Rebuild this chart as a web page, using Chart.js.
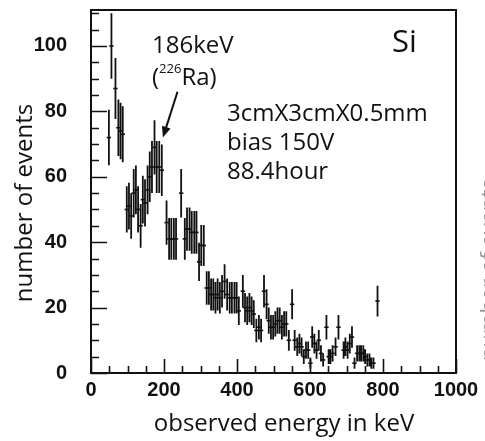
<!DOCTYPE html>
<html>
<head>
<meta charset="utf-8">
<script src="https://cdn.jsdelivr.net/npm/chart.js@4.4.1/dist/chart.umd.min.js"></script>
<style>
  html, body { margin: 0; padding: 0; background: #fff; }
  #wrap { width: 485px; height: 441px; }
</style>
</head>
<body>
<div id="wrap"><canvas id="spectrum" width="485" height="441"></canvas></div>
<script>
// Si detector, 88.4 h run: bin centre (keV) and counts in the bin
var energy = [49, 56, 67, 75, 81, 87,
  98, 104, 110, 117, 123, 129, 136, 142, 148, 155,
  161, 167, 174, 180, 187, 194,
  207, 214, 220, 227, 233, 247,
  257, 263, 270, 276, 283, 289, 296, 302, 309,
  317, 323, 329, 335, 341, 347, 353, 359, 366, 373,
  380, 386, 393, 399, 405, 416, 422, 428, 434, 440, 446,
  453, 460, 466, 474, 481, 487, 493, 499, 505, 511, 517, 523, 529, 535, 542,
  551, 558, 565, 571, 577, 583, 589, 595, 601,
  606, 612, 618, 624, 630, 636, 645, 651, 656, 662, 670, 678,
  692, 697, 703, 709, 715,
  722, 729, 735, 740, 746, 751, 757, 763, 768, 774, 785];
var counts = [72, 100, 87, 75, 74, 73,
  50, 51, 48, 55, 56, 50, 45, 53, 52, 56,
  60, 63, 69, 63, 63, 62,
  46, 41, 41, 41, 41, 55,
  41, 44, 44, 43, 43, 43, 34, 39, 39,
  26, 26, 24, 24, 23, 24, 23, 25, 28, 24,
  23, 23, 23, 23, 19, 25, 20, 19, 20, 19, 18,
  13, 14, 13, 25, 21, 16, 14, 14, 15, 16, 16, 14, 15, 15, 10,
  21, 10, 8, 9, 8, 5, 7, 7, 3,
  11, 9, 7, 10, 6, 4, 14, 5, 5, 6, 8, 14,
  7, 8, 7, 9, 11,
  3, 6, 6, 6, 6, 5, 4, 4, 3, 3, 22];
var xTicks = [0, 200, 400, 600, 800, 1000];
var yTicks = [0, 20, 40, 60, 80, 100];

var points = energy.map(function (e, i) {
  // poisson error on each bin
  return { x: e, y: counts[i], err: Math.sqrt(counts[i]) };
});

var ink = '#111';
var labelFont = '"Open Sans", "Noto Sans", sans-serif';

// inward ticks + frame, ROOT style
var frame = {
  id: 'frame',
  beforeDatasetsDraw: function (chart) {
    var ctx = chart.ctx, a = chart.chartArea;
    var xs = chart.scales.x, ys = chart.scales.y;
    ctx.save();
    ctx.strokeStyle = ink;
    ctx.lineWidth = 1.6;
    ctx.beginPath();
    for (var v = 0; v <= 110; v += 5) {
      var py = Math.round(ys.getPixelForValue(v)) + 0.5;
      var len = (v % 20 === 0) ? 16 : 8;
      ctx.moveTo(a.left, py);
      ctx.lineTo(a.left + len, py);
    }
    for (var e = 0; e <= 1000; e += 50) {
      var px = Math.round(xs.getPixelForValue(e)) + 0.5;
      var l2 = (e % 200 === 0) ? 14 : 7;
      ctx.moveTo(px, a.bottom);
      ctx.lineTo(px, a.bottom - l2);
    }
    ctx.stroke();
    ctx.lineWidth = 2;
    ctx.strokeRect(a.left, a.top, a.right - a.left, a.bottom - a.top);
    ctx.restore();
  }
};

var errorBars = {
  id: 'errorBars',
  beforeDatasetsDraw: function (chart) {
    var ctx = chart.ctx;
    var xs = chart.scales.x, ys = chart.scales.y;
    ctx.save();
    ctx.strokeStyle = ink;
    ctx.lineWidth = 1.8;
    ctx.beginPath();
    chart.data.datasets[0].data.forEach(function (p) {
      var px = xs.getPixelForValue(p.x);
      ctx.moveTo(px, ys.getPixelForValue(Math.max(0, p.y - p.err)));
      ctx.lineTo(px, ys.getPixelForValue(p.y + p.err));
    });
    ctx.stroke();
    ctx.restore();
  }
};

var notes = {
  id: 'notes',
  afterDraw: function (chart) {
    var ctx = chart.ctx;
    var xs = chart.scales.x, ys = chart.scales.y;
    ctx.save();
    ctx.fillStyle = ink;
    ctx.textBaseline = 'alphabetic';
    ctx.textAlign = 'left';

    ctx.font = '24px ' + labelFont;
    ctx.fillText('186keV', 152, 53);
    var x = 152;
    ctx.fillText('(', x, 85);
    x += ctx.measureText('(').width;
    ctx.font = '13px ' + labelFont;
    ctx.fillText('226', x, 73);
    x += ctx.measureText('226').width;
    ctx.font = '24px ' + labelFont;
    ctx.fillText('Ra)', x, 85);

    ctx.fillText('3cmX3cmX0.5mm', 227, 121);
    ctx.fillText('bias 150V', 227, 150);
    ctx.fillText('88.4hour', 227, 179);

    ctx.font = '31px ' + labelFont;
    ctx.fillText('Si', 392, 52);

    // axis titles
    ctx.font = '24px ' + labelFont;
    ctx.textAlign = 'center';
    ctx.fillText('observed energy in keV', 284, 431);
    ctx.save();
    ctx.translate(32, 203);
    ctx.rotate(-Math.PI / 2);
    ctx.fillText('number of events', 0, 0);
    ctx.restore();

    // neighbouring panel's title, cut by the page edge
    ctx.save();
    ctx.fillStyle = '#9a9a9a';
    ctx.font = '22px ' + labelFont;
    ctx.translate(496, 270);
    ctx.rotate(-Math.PI / 2);
    ctx.fillText('number of events', 0, 0);
    ctx.restore();

    // arrow to the 186 keV line
    var x0 = xs.getPixelForValue(237), y0 = ys.getPixelForValue(86);
    var x1 = xs.getPixelForValue(197), y1 = ys.getPixelForValue(72);
    var ang = Math.atan2(y1 - y0, x1 - x0);
    ctx.strokeStyle = ink;
    ctx.lineWidth = 2;
    ctx.beginPath();
    ctx.moveTo(x0, y0);
    ctx.lineTo(x1 - 8 * Math.cos(ang), y1 - 8 * Math.sin(ang));
    ctx.stroke();
    ctx.beginPath();
    ctx.moveTo(x1, y1);
    ctx.lineTo(x1 - 11 * Math.cos(ang) + 4.5 * Math.sin(ang), y1 - 11 * Math.sin(ang) - 4.5 * Math.cos(ang));
    ctx.lineTo(x1 - 11 * Math.cos(ang) - 4.5 * Math.sin(ang), y1 - 11 * Math.sin(ang) + 4.5 * Math.cos(ang));
    ctx.closePath();
    ctx.fill();
    ctx.restore();
  }
};

function draw() {
  var tickFont = { family: '"Liberation Sans", Arial, sans-serif', size: 20, weight: 'bold' };
  new Chart(document.getElementById('spectrum'), {
    type: 'scatter',
    data: {
      datasets: [{
        data: points,
        pointStyle: 'line',
        pointRadius: 2.2,
        pointBorderWidth: 1.6,
        borderColor: ink,
        backgroundColor: ink
      }]
    },
    options: {
      responsive: false,
      animation: false,
      events: [],
      layout: { padding: { top: 10, right: 29, left: 0, bottom: 0 }, autoPadding: false },
      plugins: { legend: { display: false }, tooltip: { enabled: false } },
      scales: {
        x: {
          type: 'linear',
          min: 0,
          max: 1000,
          afterFit: function (s) {
            s.height = 68;
            s.paddingLeft = 0;
            s.paddingRight = 0;
          },
          afterBuildTicks: function (s) {
            s.ticks = xTicks.map(function (v) { return { value: v }; });
          },
          grid: { display: false, drawTicks: false },
          border: { display: false },
          ticks: {
            padding: 5, autoSkip: false, maxRotation: 0, color: ink, font: tickFont,
            callback: function (v) { return String(v); }
          }
        },
        y: {
          type: 'linear',
          min: 0,
          max: 111,
          afterFit: function (s) {
            s.width = 91;
            s.paddingTop = 0;
            s.paddingBottom = 0;
          },
          afterBuildTicks: function (s) {
            s.ticks = yTicks.map(function (v) { return { value: v }; });
          },
          grid: { display: false, drawTicks: false },
          border: { display: false },
          ticks: {
            padding: 24, color: ink, font: tickFont,
            callback: function (v) { return String(v); }
          }
        }
      }
    },
    plugins: [frame, errorBars, notes]
  });
}

Promise.all([
  document.fonts.load('24px "Open Sans"'),
  document.fonts.load('bold 20px "Liberation Sans"')
]).then(draw, draw);
</script>
</body>
</html>
